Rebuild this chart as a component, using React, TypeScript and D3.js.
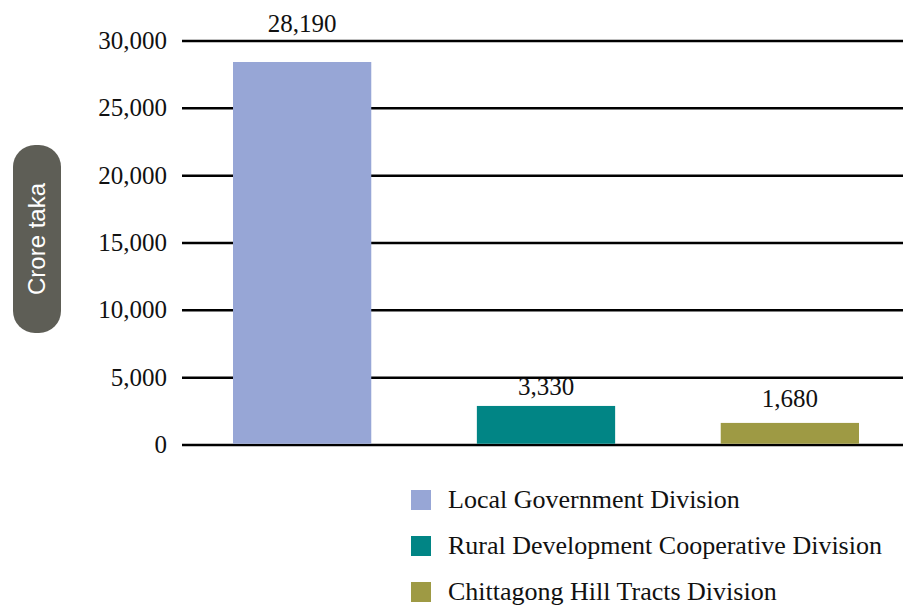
import React from "react";
import * as d3 from "d3";

const categories = ["Local Government Division", "Rural Development Cooperative Division", "Chittagong Hill Tracts Division"];
const barValues = [28440, 2900, 1640];
const valueLabels = ["28,190", "3,330", "1,680"];
const colors = ["#97A6D6", "#018585", "#9E9A44"];
const yTicks = [0, 5000, 10000, 15000, 20000, 25000, 30000];

export default function App() {
  const W = 903, H = 605;
  const left = 182, right = 903;
  const y = d3.scaleLinear().domain([0, 30000]).range([445, 41]);
  const x = d3.scaleBand<string>().domain(categories).range([233, 859]).paddingInner(0.433).paddingOuter(0);
  const fmt = d3.format(",");
  const serif = "'Liberation Serif', serif";
  const labelGap = [30, 11, 16];
  return (
    <svg width={W} height={H} style={{ position: "absolute", left: 0, top: 0, background: "#fff" }}>
      {yTicks.map((t) => (
        <g key={t}>
          <line x1={left} x2={right} y1={y(t)} y2={y(t)} stroke="#000" strokeWidth={2.5} />
          <text x={167} y={y(t) + 8} textAnchor="end" fontFamily={serif} fontSize={25} fill="#111">{fmt(t)}</text>
        </g>
      ))}
      {categories.map((c, i) => (
        <g key={c}>
          <rect x={x(c)!} width={x.bandwidth()} y={y(barValues[i])} height={y(0) - y(barValues[i]) - 1.25} fill={colors[i]} />
          <text x={x(c)! + x.bandwidth() / 2} y={y(barValues[i]) - labelGap[i]} textAnchor="middle" fontFamily={serif} fontSize={25} fill="#111">{valueLabels[i]}</text>
        </g>
      ))}
      <rect x={13} y={145} width={48} height={188} rx={22} ry={22} fill="#5E5E56" />
      <text transform="translate(45,239) rotate(-90)" textAnchor="middle" fontFamily="'Liberation Sans', Arial, sans-serif" fontSize={24} fill="#fff">Crore taka</text>
      {categories.map((c, i) => (
        <g key={"lg" + c}>
          <rect x={411} y={490 + i * 46} width={20} height={20} fill={colors[i]} />
          <text x={448} y={508 + i * 46} fontFamily={serif} fontSize={26} fill="#111">{c}</text>
        </g>
      ))}
    </svg>
  );
}
